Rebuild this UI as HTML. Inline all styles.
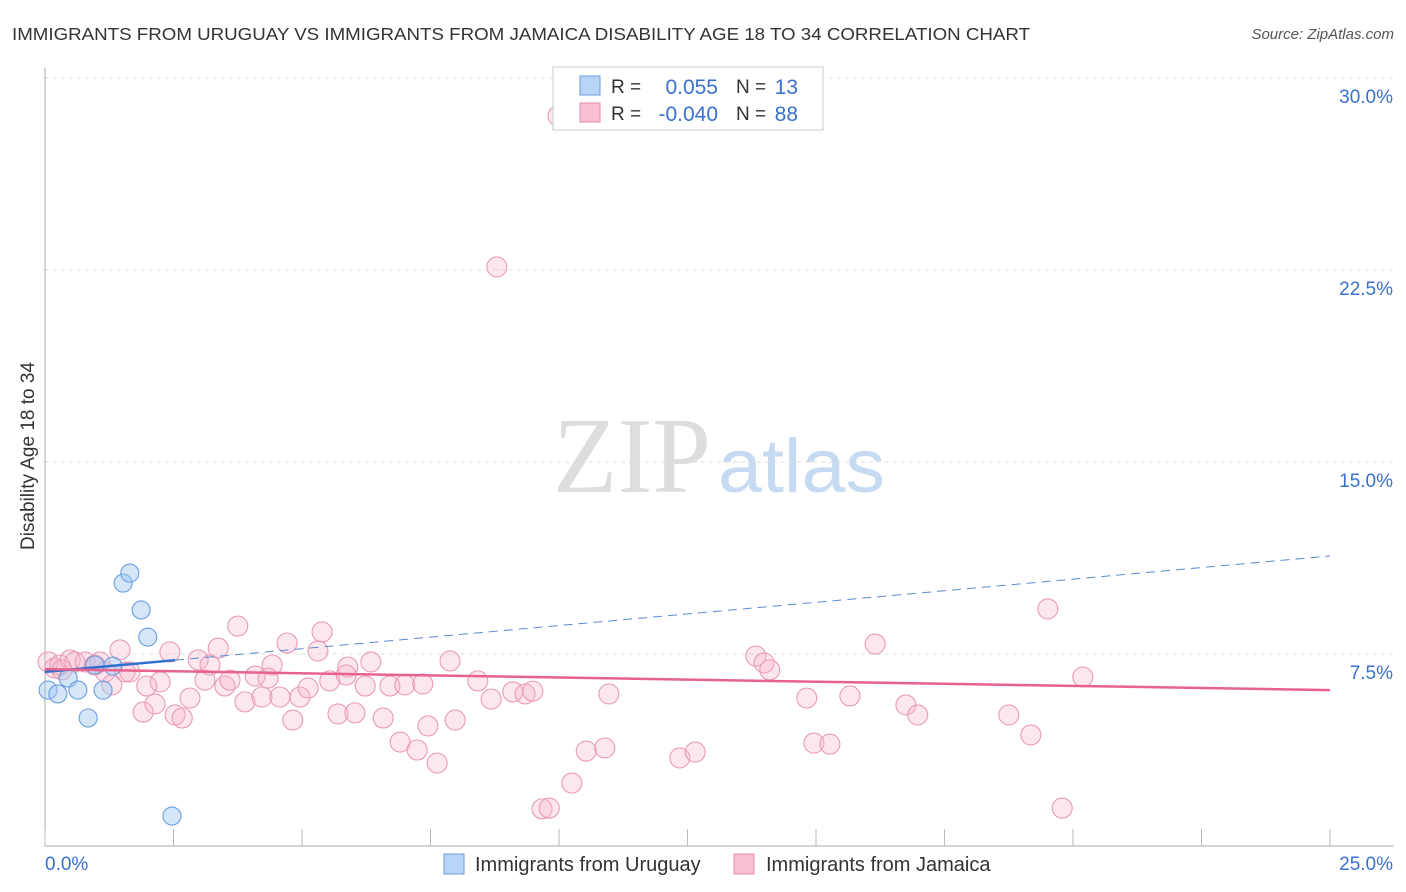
<!DOCTYPE html>
<html><head><meta charset="utf-8"><style>
body{margin:0;background:#fff;font-family:"Liberation Sans",sans-serif;}
#c{position:relative;width:1406px;height:892px;overflow:hidden}
</style></head><body>
<div id="c">
<svg id="s" width="1406" height="892" xmlns="http://www.w3.org/2000/svg">
<text x="12" y="40" font-size="17.5" fill="#333" textLength="1018" lengthAdjust="spacingAndGlyphs">IMMIGRANTS FROM URUGUAY VS IMMIGRANTS FROM JAMAICA DISABILITY AGE 18 TO 34 CORRELATION CHART</text>
<text x="1394" y="39" font-size="15" fill="#555" font-style="italic" text-anchor="end">Source: ZipAtlas.com</text>
<text x="0" y="0" font-size="19" fill="#333" text-anchor="middle" transform="translate(34,456) rotate(-90)">Disability Age 18 to 34</text>
<text x="553" y="492" font-size="108" fill="#ddd" font-family="Liberation Serif,serif" textLength="158" lengthAdjust="spacingAndGlyphs">ZIP</text>
<text x="718" y="492" font-size="76" fill="#c6daf2" textLength="167" lengthAdjust="spacingAndGlyphs">atlas</text>
<g id="grid"></g><g id="axes"></g><g id="pts"></g><g id="lines"></g>
<g>
<rect x="553" y="67" width="270" height="63" fill="#fff" stroke="#ccc"/>
<rect x="580" y="76" width="20" height="19" fill="#b8d4f6" stroke="#6a9ee0"/>
<rect x="580" y="103" width="20" height="19" fill="#f9c0d2" stroke="#e888a8"/>
<text x="611" y="93" font-size="19" fill="#333">R = </text><text x="718" y="94" font-size="21" fill="#3a70d0" text-anchor="end">0.055</text>
<text x="736" y="93" font-size="19" fill="#333">N = </text><text x="798" y="94" font-size="21" fill="#3a70d0" text-anchor="end">13</text>
<text x="611" y="120" font-size="19" fill="#333">R = </text><text x="718" y="121" font-size="21" fill="#3a70d0" text-anchor="end">-0.040</text>
<text x="736" y="120" font-size="19" fill="#333">N = </text><text x="798" y="121" font-size="21" fill="#3a70d0" text-anchor="end">88</text>
</g>
<g>
<rect x="444" y="854" width="20" height="20" fill="#b8d4f6" stroke="#6a9ee0"/>
<text x="475" y="871" font-size="20" fill="#333">Immigrants from Uruguay</text>
<rect x="734" y="854" width="20" height="20" fill="#f9c0d2" stroke="#e888a8"/>
<text x="766" y="871" font-size="20" fill="#333">Immigrants from Jamaica</text>
</g>
</svg>
</div>
<script>
const xTicks=[0,2.5,5,7.5,10,12.5,15,17.5,20,22.5,25];
const yTicks=[7.5,15,22.5,30];
const yTickLabels=["7.5%","15.0%","22.5%","30.0%"];
const uruguayX=[0.06,0.25,0.45,0.64,0.84,0.97,1.13,1.32,1.52,1.65,1.87,2.00,2.47];
const uruguayY=[6.09,5.94,6.56,6.09,5.00,7.07,6.09,7.03,10.27,10.66,9.22,8.16,1.17];
const jamaicaX=[0.06,0.19,0.29,0.49,0.58,0.78,0.97,1.17,1.30,1.46,1.56,1.65,1.98,1.91,2.14,2.24,2.43,2.53,2.67,2.82,2.98,3.11,3.21,3.37,3.50,3.60,3.75,3.89,4.09,4.22,4.34,4.42,4.57,4.71,4.82,4.96,5.12,5.31,5.39,5.54,5.70,5.89,5.86,6.03,6.23,6.34,6.58,6.71,6.91,7.00,7.24,7.35,7.45,7.63,7.88,7.98,8.42,8.68,8.79,9.10,9.34,9.49,9.67,9.81,9.98,10.25,10.53,10.89,10.97,12.35,12.65,13.83,13.99,14.10,14.82,14.96,15.27,15.66,16.15,16.75,16.98,18.75,19.18,19.51,19.79,20.19,0.33,1.07];
const jamaicaY=[7.19,6.95,7.07,7.27,7.19,7.19,7.07,6.80,6.29,7.66,6.80,6.80,6.25,5.23,5.55,6.41,7.58,5.12,5.00,5.78,7.27,6.48,7.07,7.73,6.25,6.48,8.59,5.63,6.64,5.82,6.56,7.07,5.82,7.93,4.92,5.82,6.17,7.62,8.36,6.45,5.16,6.99,6.68,5.20,6.25,7.19,5.00,6.25,4.06,6.29,3.75,6.33,4.69,3.24,7.23,4.92,6.45,5.74,22.62,6.02,5.94,6.05,1.45,1.48,28.52,2.46,3.71,3.83,5.94,3.44,3.67,7.42,7.15,6.88,5.78,4.02,3.98,5.86,7.89,5.51,5.12,5.12,4.34,9.26,1.48,6.60,6.88,7.19];
const jamaicaTrend=[6.91,6.09];
const uruguayTrend=[6.80,11.33];
const uruguaySolidEnd=2.53;
const NS='http://www.w3.org/2000/svg';
const X=v=>45+v/25*1285, Y=v=>846-v/7.5*192;
function mk(p,t,a){const e=document.createElementNS(NS,t);for(const k in a)e.setAttribute(k,a[k]);document.getElementById(p).appendChild(e);return e;}
yTicks.forEach((t,i)=>{
 const l=mk('grid','line',{x1:45,x2:1394,y1:Y(t),y2:Y(t),stroke:'#ddd','stroke-dasharray':'4,4'});
 
 
 const tx=mk('grid','text',{x:1393,y:Y(t)+25,'font-size':19,fill:'#3a70d0','text-anchor':'end'});tx.textContent=yTickLabels[i];
 
 
});
const ax=mk('axes','path',{d:'M45,68V846H1394',stroke:'#aaa',fill:'none'});


xTicks.forEach(t=>{const l=mk('axes','line',{x1:X(t),x2:X(t),y1:829,y2:846,stroke:'#bbb'});
 
 });
const x0=mk('axes','text',{x:45,y:870,'font-size':19,fill:'#3a70d0'});x0.textContent='0.0%';


const x1=mk('axes','text',{x:1393,y:870,'font-size':19,fill:'#3a70d0','text-anchor':'end'});x1.textContent='25.0%';


jamaicaX.forEach((v,i)=>{const c=mk('pts','circle',{cx:X(v),cy:Y(jamaicaY[i]),r:10,fill:'rgba(248,180,202,0.32)',stroke:'#e99ab5','stroke-width':1.1});
 
 });
uruguayX.forEach((v,i)=>{const c=mk('pts','circle',{cx:X(v),cy:Y(uruguayY[i]),r:9,fill:'rgba(160,200,240,0.45)',stroke:'#6a9de0','stroke-width':1.1});
 
 });
const uy=x=>uruguayTrend[0]+(uruguayTrend[1]-uruguayTrend[0])*x/25;
const d1=mk('lines','line',{x1:X(uruguaySolidEnd),y1:Y(uy(uruguaySolidEnd)),x2:X(25),y2:Y(uy(25)),stroke:'#5a8ad0','stroke-width':1,'stroke-dasharray':'9,6'});


const s1=mk('lines','line',{x1:X(0),y1:Y(uy(0)),x2:X(uruguaySolidEnd),y2:Y(uy(uruguaySolidEnd)),stroke:'#2e6fd0','stroke-width':2.5});


const j1=mk('lines','line',{x1:X(0),y1:Y(jamaicaTrend[0]),x2:X(25),y2:Y(jamaicaTrend[1]),stroke:'#e8628e','stroke-width':2.5});


</script>
</body></html>
